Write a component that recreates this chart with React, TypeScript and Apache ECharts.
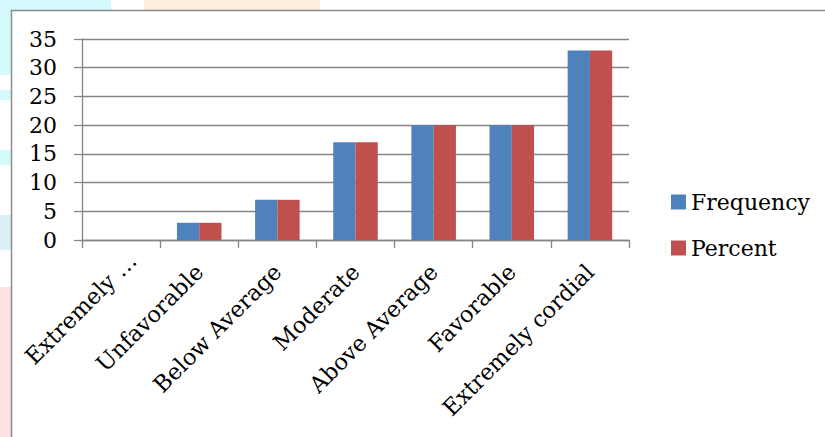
import React, { useEffect, useRef } from "react";
import * as echarts from "echarts";

const categories = [
  "Extremely …",
  "Unfavorable",
  "Below Average",
  "Moderate",
  "Above Average",
  "Favorable",
  "Extremely cordial",
];
const frequency = [0, 3, 7, 17, 20, 20, 33];
const percent = [0, 3, 7, 17, 20, 20, 33];
const yTicks = { min: 0, max: 35, interval: 5 };

const FONT = "'DejaVu Serif', serif";
const GRID_COLOR = "#868686";

// the shortened first label sits a little further along its slant
const categoryData = categories.map((name, i) =>
  i === 0 ? { value: name, textStyle: { padding: [0, -16, 0, 0] } } : name
);

export default function App() {
  const ref = useRef<HTMLDivElement>(null);

  useEffect(() => {
    if (!ref.current) return;
    const chart = echarts.init(ref.current, undefined, { renderer: "svg" });
    chart.setOption({
      animation: false,
      backgroundColor: "#ffffff",
      graphic: [
        // soft tinted margins around the chart frame
        { type: "rect", z: -10, shape: { x: 0, y: 0, width: 111, height: 10 }, style: { fill: "#d4fafd" } },
        { type: "rect", z: -10, shape: { x: 144, y: 0, width: 176, height: 10 }, style: { fill: "#fdeede" } },
        { type: "rect", z: -10, shape: { x: 0, y: 0, width: 11, height: 75 }, style: { fill: "#d4fafd" } },
        { type: "rect", z: -10, shape: { x: 0, y: 90, width: 11, height: 10 }, style: { fill: "#d4fafd" } },
        { type: "rect", z: -10, shape: { x: 0, y: 150, width: 11, height: 15 }, style: { fill: "#d4fafd" } },
        { type: "rect", z: -10, shape: { x: 0, y: 215, width: 11, height: 35 }, style: { fill: "#dcf0fa" } },
        { type: "rect", z: -10, shape: { x: 0, y: 287, width: 11, height: 150 }, style: { fill: "#fde2e2" } },
        // chart frame
        {
          type: "rect",
          z: -5,
          shape: { x: 11.5, y: 10.5, width: 830, height: 440 },
          style: { fill: "#ffffff", stroke: "#8c8c8c", lineWidth: 1.5 },
        },
      ],
      grid: { left: 82, right: 196, top: 39, bottom: 197, containLabel: false },
      legend: {
        orient: "vertical",
        left: 671,
        top: 191,
        padding: 0,
        itemWidth: 15,
        itemHeight: 15,
        itemGap: 24,
        icon: "rect",
        textStyle: { fontFamily: FONT, fontSize: 22, color: "#000" },
        data: ["Frequency", "Percent"],
      },
      xAxis: {
        type: "category",
        data: categoryData,
        axisLine: { show: true, lineStyle: { color: GRID_COLOR, width: 1.3 } },
        axisTick: { show: true, length: 8, interval: 0, lineStyle: { color: GRID_COLOR, width: 1.3 } },
        axisLabel: {
          interval: 0,
          rotate: 45,
          margin: 28,
          fontFamily: FONT,
          fontSize: 22.5,
          color: "#000",
        },
      },
      yAxis: {
        type: "value",
        min: yTicks.min,
        max: yTicks.max,
        interval: yTicks.interval,
        axisLine: { show: true, lineStyle: { color: GRID_COLOR, width: 1.3 } },
        axisTick: { show: true, length: 8, lineStyle: { color: GRID_COLOR, width: 1.3 } },
        splitLine: { show: true, lineStyle: { color: GRID_COLOR, width: 1.3 } },
        axisLabel: { margin: 25, fontFamily: FONT, fontSize: 22, color: "#000" },
      },
      series: [
        {
          name: "Frequency",
          type: "bar",
          data: frequency,
          barGap: "0%",
          barCategoryGap: "43%",
          itemStyle: { color: "#4f81bd" },
        },
        {
          name: "Percent",
          type: "bar",
          data: percent,
          barGap: "0%",
          barCategoryGap: "43%",
          itemStyle: { color: "#c0504d" },
        },
      ],
    });
    return () => chart.dispose();
  }, []);

  return (
    <div
      ref={ref}
      style={{ position: "fixed", left: 0, top: 0, width: 825, height: 437 }}
    />
  );
}
